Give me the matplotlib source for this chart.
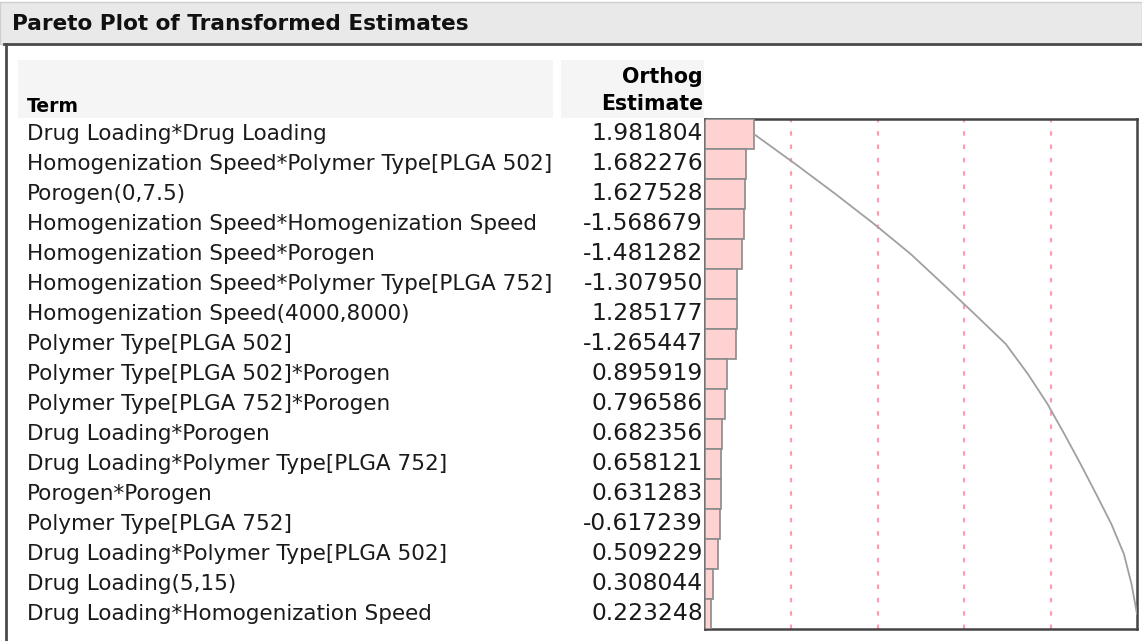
import matplotlib.pyplot as plt
import matplotlib.transforms as mtransforms
from matplotlib.patches import Rectangle
import numpy as np

plt.rcParams['font.family'] = ['DejaVu Sans']

title = "Pareto Plot of Transformed Estimates"
terms = [
    "Drug Loading*Drug Loading",
    "Homogenization Speed*Polymer Type[PLGA 502]",
    "Porogen(0,7.5)",
    "Homogenization Speed*Homogenization Speed",
    "Homogenization Speed*Porogen",
    "Homogenization Speed*Polymer Type[PLGA 752]",
    "Homogenization Speed(4000,8000)",
    "Polymer Type[PLGA 502]",
    "Polymer Type[PLGA 502]*Porogen",
    "Polymer Type[PLGA 752]*Porogen",
    "Drug Loading*Porogen",
    "Drug Loading*Polymer Type[PLGA 752]",
    "Porogen*Porogen",
    "Polymer Type[PLGA 752]",
    "Drug Loading*Polymer Type[PLGA 502]",
    "Drug Loading(5,15)",
    "Drug Loading*Homogenization Speed",
]
estimates = [1.981804, 1.682276, 1.627528, -1.568679, -1.481282, -1.307950,
             1.285177, -1.265447, 0.895919, 0.796586, 0.682356, 0.658121,
             0.631283, -0.617239, 0.509229, 0.308044, 0.223248]
grid_fracs = [0.2, 0.4, 0.6, 0.8]

W, H = 1142, 641
fig = plt.figure(figsize=(W / 100, H / 100), dpi=100)

def fx(px):
    return px / W

def fy(py):
    return 1 - py / H

# title bar
fig.patches.append(Rectangle((fx(0), fy(44)), 1, fy(2) - fy(44), transform=fig.transFigure,
                             facecolor='#e9e9e9', edgecolor='#cfcfcf', lw=1, zorder=0))
fig.add_artist(plt.Line2D([fx(4), 1], [fy(44), fy(44)], transform=fig.transFigure,
                          color='#4a4a4a', lw=2))
fig.add_artist(plt.Line2D([fx(6), fx(6)], [fy(44), 0], transform=fig.transFigure,
                          color='#4a4a4a', lw=2))
fig.text(fx(12), fy(24), title, fontsize=15.6, fontweight='bold', va='center', ha='left',
         color='#111111')

# column header backgrounds
fig.patches.append(Rectangle((fx(18), fy(118)), fx(553 - 18), fy(60) - fy(118),
                             transform=fig.transFigure, facecolor='#f5f5f5', edgecolor='none'))
fig.patches.append(Rectangle((fx(561), fy(118)), fx(704 - 561), fy(60) - fy(118),
                             transform=fig.transFigure, facecolor='#f5f5f5', edgecolor='none'))
fig.text(fx(27), fy(106), "Term", fontsize=13.5, fontweight='bold', va='center', ha='left')
fig.text(fx(703), fy(77), "Orthog", fontsize=14.8, fontweight='bold', va='center', ha='right')
fig.text(fx(703), fy(104), "Estimate", fontsize=14.8, fontweight='bold', va='center', ha='right')

# pareto axes
ax = fig.add_axes([fx(705), fy(629), fx(1137 - 705), fy(119) - fy(629)])
vals = np.abs(np.array(estimates))
total = vals.sum()
frac = vals / total
rows = np.arange(len(terms))
ax.barh(rows, frac, height=1.0, left=0, color='#ffd2d2', edgecolor='#8a8a8a', lw=1.2, zorder=3)
for g in grid_fracs:
    ax.axvline(g, color='#ff9cae', lw=1.6, ls=(0, (2, 4)), zorder=1)
ax.plot(np.cumsum(frac), rows, color='#a0a0a0', lw=1.3, zorder=4)
ax.set_xlim(0, 1)
ax.set_ylim(len(terms) - 0.5, -0.5)
ax.set_xticks([])
ax.set_yticks([])
for s in ax.spines.values():
    s.set_color('#444444')
    s.set_linewidth(1.8)

# row labels tied to bar rows
trans = mtransforms.blended_transform_factory(fig.transFigure, ax.transData)
for i, (t, e) in enumerate(zip(terms, estimates)):
    fig.text(fx(27), i, t, transform=trans, fontsize=15.5, va='center', ha='left', color='#1a1a1a')
    fig.text(fx(703), i, f"{e:.6f}", transform=trans, fontsize=16.8, va='center', ha='right',
             color='#1a1a1a')

fig.savefig('out.png', dpi=100)
